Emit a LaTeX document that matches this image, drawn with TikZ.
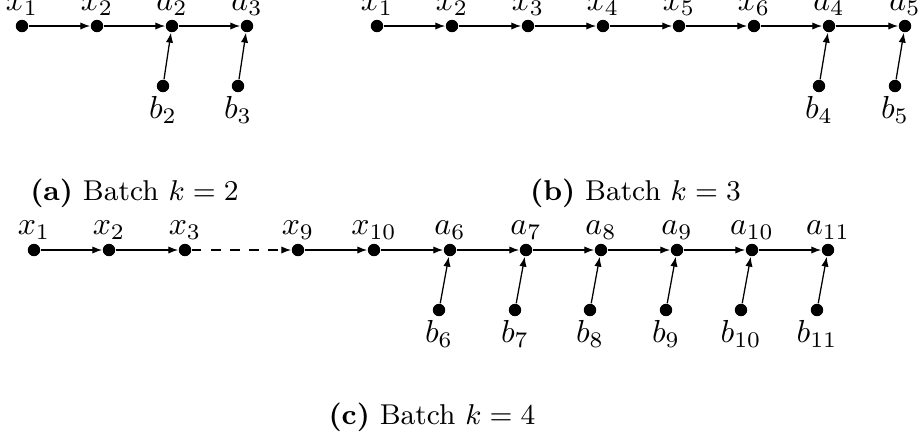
\documentclass[tikz,border=0pt]{standalone}
\usetikzlibrary{arrows.meta}
\begin{document}
\begin{tikzpicture}[x=0.314pt,y=-0.314pt,
  dot/.style={circle,fill=black,inner sep=0pt,minimum size=3.9pt,label distance=0.8pt},
  up/.style={dot,label={[inner sep=1pt]above:$#1$}},
  dn/.style={dot,label={[inner sep=1pt]below:$#1$}},
  conn/.style={-{Latex[length=3.1pt,width=2.3pt]},line width=0.4pt},
  captext/.style={inner sep=0pt,anchor=center,font=\small}
]
\useasboundingbox (0,0) rectangle (920,439);
% panel (a)
\node[up={x_1}] (ax1) at (22,26) {};
\node[up={x_2}] (ax2) at (97,26) {};
\node[up={a_2}] (aa2) at (172,26) {};
\node[up={a_3}] (aa3) at (247,26) {};
\node[dn={b_2}] (ab2) at (163,86) {};
\node[dn={b_3}] (ab3) at (238,86) {};
\draw[conn] (ax1) -- (ax2);
\draw[conn] (ax2) -- (aa2);
\draw[conn] (aa2) -- (aa3);
\draw[conn] (ab2) -- (aa2);
\draw[conn] (ab3) -- (aa3);
\node[captext] (capa) at (134.5,193) {\textbf{(a)} Batch $k=2$};
% panel (b)
\node[up={x_1}] (bx1) at (377,26) {};
\node[up={x_2}] (bx2) at (452,26) {};
\node[up={x_3}] (bx3) at (528,26) {};
\node[up={x_4}] (bx4) at (603,26) {};
\node[up={x_5}] (bx5) at (679,26) {};
\node[up={x_6}] (bx6) at (754,26) {};
\node[up={a_4}] (ba4) at (829,26) {};
\node[up={a_5}] (ba5) at (905,26) {};
\node[dn={b_4}] (bb4) at (819,86) {};
\node[dn={b_5}] (bb5) at (895,86) {};
\draw[conn] (bx1) -- (bx2);
\draw[conn] (bx2) -- (bx3);
\draw[conn] (bx3) -- (bx4);
\draw[conn] (bx4) -- (bx5);
\draw[conn] (bx5) -- (bx6);
\draw[conn] (bx6) -- (ba4);
\draw[conn] (ba4) -- (ba5);
\draw[conn] (bb4) -- (ba4);
\draw[conn] (bb5) -- (ba5);
\node[captext] (capb) at (635.5,193) {\textbf{(b)} Batch $k=3$};
% panel (c)
\node[up={x_1}] (cx1) at (34,250) {};
\node[up={x_2}] (cx2) at (109,250) {};
\node[up={x_3}] (cx3) at (185,250) {};
\node[up={x_9}] (cx9) at (298,250) {};
\node[up={x_{10}}] (cx10) at (374,250) {};
\node[up={a_6}] (ca6) at (450,250) {};
\node[up={a_7}] (ca7) at (526,250) {};
\node[up={a_8}] (ca8) at (601,250) {};
\node[up={a_9}] (ca9) at (677,250) {};
\node[up={a_{10}}] (ca10) at (752,250) {};
\node[up={a_{11}}] (ca11) at (828,250) {};
\node[dn={b_6}] (cb6) at (439,310) {};
\node[dn={b_7}] (cb7) at (515,310) {};
\node[dn={b_8}] (cb8) at (590,310) {};
\node[dn={b_9}] (cb9) at (666,310) {};
\node[dn={b_{10}}] (cb10) at (741,310) {};
\node[dn={b_{11}}] (cb11) at (817,310) {};
\draw[conn] (cx1) -- (cx2);
\draw[conn] (cx2) -- (cx3);
\draw[conn,dashed] (cx3) -- (cx9);
\draw[conn] (cx9) -- (cx10);
\draw[conn] (cx10) -- (ca6);
\draw[conn] (ca6) -- (ca7);
\draw[conn] (ca7) -- (ca8);
\draw[conn] (ca8) -- (ca9);
\draw[conn] (ca9) -- (ca10);
\draw[conn] (ca10) -- (ca11);
\draw[conn] (cb6) -- (ca6);
\draw[conn] (cb7) -- (ca7);
\draw[conn] (cb8) -- (ca8);
\draw[conn] (cb9) -- (ca9);
\draw[conn] (cb10) -- (ca10);
\draw[conn] (cb11) -- (ca11);
\node[captext] (capc) at (432,417) {\textbf{(c)} Batch $k=4$};
\end{tikzpicture}
\end{document}
